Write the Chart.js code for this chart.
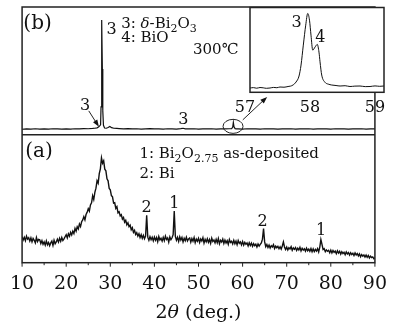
<!DOCTYPE html>
<html>
<head>
<meta charset="utf-8">
<script src="https://cdn.jsdelivr.net/npm/chart.js@4.4.1/dist/chart.umd.min.js"></script>
<style>
  html, body { margin: 0; padding: 0; background: #fff; }
  #wrap { position: relative; width: 397px; height: 327px; }
  #main { position: absolute; left: 0; top: 0; }
  #inset { position: absolute; left: 236px; top: 0; }
</style>
</head>
<body>
<div id="wrap">
  <canvas id="main" width="397" height="327"></canvas>
  <canvas id="inset" width="160" height="117"></canvas>
</div>
<script>
// (a) as-deposited film, step scan 10-90 deg, 0.25 deg per step
const aStart = 10;
const aStep = 0.25;
const aCounts = [
  130, 114, 127, 110, 133, 118, 125, 108,   // 10
  124, 104, 121, 112, 99, 126, 106, 117,    // 12
  115, 96, 110, 92, 104, 88, 109, 90,       // 14
  101, 85, 99, 108, 86, 112, 95, 104,       // 16
  118, 103, 122, 107, 126, 111, 119, 130,   // 18
  140, 124, 145, 133, 152, 139, 158, 146,   // 20
  172, 158, 180, 169, 194, 181, 205, 214,   // 22
  230, 214, 241, 252, 270, 258, 289, 300,   // 24
  335, 316, 352, 373, 410, 398, 446, 470,   // 26
  525, 498, 510, 468, 460, 420, 410, 372,   // 28
  365, 336, 330, 298, 300, 272, 281, 250,   // 30
  255, 234, 240, 218, 226, 203, 212, 190,   // 32
  200, 180, 188, 165, 175, 152, 162, 141,   // 34
  150, 133, 145, 126, 140, 122, 137, 120,   // 36
  133, 237, 128, 112, 130, 115, 127, 109,   // 38
  128, 112, 126, 105, 131, 114, 122, 108,   // 40
  127, 110, 133, 116, 124, 103, 129, 115,   // 42
  125, 140, 259, 132, 112, 127, 107, 130,   // 44
  113, 126, 104, 122, 110, 128, 109, 119,   // 46
  124, 103, 121, 108, 126, 100, 118, 107,   // 48
  122, 101, 119, 109, 125, 98, 117, 104,    // 50
  120, 102, 116, 97, 123, 106, 114, 99,     // 52
  117, 100, 121, 95, 112, 104, 118, 96,     // 54
  113, 99, 110, 92, 116, 101, 107, 94,      // 56
  112, 95, 108, 90, 111, 97, 104, 89,       // 58
  106, 88, 102, 92, 99, 84, 100, 86,        // 60
  98, 82, 95, 85, 93, 79, 94, 83,           // 62
  92, 99, 118, 171, 104, 80, 91, 76,        // 64
  88, 74, 85, 79, 90, 71, 83, 75,           // 66
  82, 70, 80, 68, 84, 104, 79, 66,          // 68
  78, 64, 75, 69, 80, 62, 74, 67,           // 70
  76, 61, 73, 64, 77, 59, 72, 63,           // 72
  70, 58, 73, 60, 68, 57, 71, 55,           // 74
  69, 56, 67, 58, 70, 54, 78, 116,          // 76
  92, 66, 70, 55, 64, 57, 62, 50,           // 78
  63, 49, 61, 52, 58, 45, 60, 48,           // 80
  57, 43, 55, 46, 52, 40, 54, 44,           // 82
  51, 38, 50, 41, 47, 36, 49, 39,           // 84
  46, 34, 44, 30, 41, 33, 39, 28,           // 86
  38, 27, 36, 24, 33, 26, 29, 20,           // 88
  25                                        // 90
];

// (b) annealed at 300 C
const bAngles = [10, 11, 12, 13, 14, 15, 16, 17, 18, 19, 20, 21, 22, 23, 24, 25, 26, 26.5, 27, 27.4,
  27.8, 27.9, 28.0, 28.1, 28.2, 28.3, 28.45, 28.7, 29.1, 29.5, 29.9, 30.3, 30.8, 31.5, 32, 33, 34, 35,
  36, 37, 38, 39, 40, 41, 42, 43, 44, 45, 46, 46.5, 47, 48, 49, 50, 51, 52, 53, 54, 55, 56, 57, 57.5,
  57.75, 57.9, 58.05, 58.3, 58.6, 59, 60, 61, 62, 63, 64, 65, 66, 67, 68, 69, 70, 71, 72, 73, 74, 75,
  76, 77, 78, 79, 80, 81, 82, 83, 84, 85, 86, 87, 88, 89, 90];
const bCounts = [280, 300, 285, 305, 290, 300, 285, 305, 295, 285, 300, 290, 305, 295, 310, 305, 320, 330, 350, 400,
  500, 1400, 3800, 5750, 3300, 1200, 480, 340, 330, 370, 420, 360, 330, 320, 315, 300, 310, 295,
  305, 290, 300, 310, 295, 300, 290, 305, 300, 290, 310, 330, 300, 295, 305, 290, 300, 295, 305, 290, 300, 295, 305, 310,
  380, 620, 400, 310, 295, 300, 290, 305, 295, 300, 290, 305, 295, 300, 290, 300, 295, 305, 290, 300, 295, 305,
  290, 300, 295, 300, 290, 305, 295, 300, 290, 300, 295, 305, 290, 300, 295];

// inset: 57-59 deg of (b)
const insetAngles = [57.077, 57.13, 57.18, 57.231, 57.28, 57.33, 57.385, 57.44, 57.49, 57.538, 57.6, 57.662,
  57.70, 57.738, 57.785, 57.831, 57.862, 57.897, 57.934, 57.965, 57.992, 58.015, 58.042, 58.077, 58.112,
  58.138, 58.154, 58.18, 58.231, 58.28, 58.334, 58.4, 58.462, 58.54, 58.615, 58.69, 58.769, 58.85, 58.923,
  59.0, 59.07, 59.138];
const insetCounts = [43, 47, 41, 48, 45, 40, 43, 49, 46, 53, 51, 58,
  62, 73, 103, 163, 273, 473, 673, 790, 723, 573, 423, 453, 480,
  403, 306, 173, 100, 82, 73, 68, 63, 66, 58, 62, 63, 57, 58,
  64, 60, 63];
const insetTicks = [57, 58, 59];

const xLabels = [10, 20, 30, 40, 50, 60, 70, 80, 90];

const FONT = '"DejaVu Serif", serif';

// text placed in data coordinates of each panel
const notes = [
  { axis: 'yB', x: 10.29, y: 5300, size: 20, align: 'left', parts: [['(b)']] },
  { axis: 'yB', x: 32.47, y: 5365, size: 15, align: 'left', parts: [['3: '], ['δ', 'i'], ['-Bi'], ['2', 'sub'], ['O'], ['3', 'sub']] },
  { axis: 'yB', x: 32.47, y: 4665, size: 15, align: 'left', parts: [['4: BiO']] },
  { axis: 'yB', x: 48.76, y: 4050, size: 15, align: 'left', parts: [['300℃']] },
  { axis: 'yB', x: 30.3, y: 5035, size: 16, align: 'center', parts: [['3']] },
  { axis: 'yB', x: 24.28, y: 1250, size: 16, align: 'center', parts: [['3']] },
  { axis: 'yB', x: 46.55, y: 550, size: 16, align: 'center', parts: [['3']] },
  { axis: 'yA', x: 10.73, y: 527, size: 20, align: 'left', parts: [['(a)']] },
  { axis: 'yA', x: 36.6, y: 525, size: 15, align: 'left', parts: [['1: Bi'], ['2', 'sub'], ['O'], ['2.75', 'sub'], [' as-deposited']] },
  { axis: 'yA', x: 36.6, y: 422, size: 15, align: 'left', parts: [['2: Bi']] },
  { axis: 'yA', x: 38.21, y: 252, size: 16, align: 'center', parts: [['2']] },
  { axis: 'yA', x: 44.5, y: 272, size: 16, align: 'center', parts: [['1']] },
  { axis: 'yA', x: 64.53, y: 182, size: 16, align: 'center', parts: [['2']] },
  { axis: 'yA', x: 77.8, y: 137, size: 16, align: 'center', parts: [['1']] }
];
const arrows = [
  { axis: 'yB', from: [25.12, 1200], to: [27.42, 400] },
  { axis: 'yB', from: [60.04, 750], to: [65.57, 1900] }
];
const circleAt = { axis: 'yB', x: 57.83, y: 425 };

function drawRich(ctx, parts, x, y, size, align) {
  const fontOf = p => (p[1] === 'i' ? 'italic ' : '') + (p[1] === 'sub' ? Math.round(size * 0.72) : size) + 'px ' + FONT;
  let width = 0;
  for (const p of parts) { ctx.font = fontOf(p); width += ctx.measureText(p[0]).width; }
  let cx = align === 'center' ? x - width / 2 : x;
  ctx.textAlign = 'left';
  ctx.textBaseline = 'alphabetic';
  for (const p of parts) {
    ctx.font = fontOf(p);
    ctx.fillText(p[0], cx, p[1] === 'sub' ? y + size * 0.28 : y);
    cx += ctx.measureText(p[0]).width;
  }
}

function arrowLine(ctx, x1, y1, x2, y2) {
  const ang = Math.atan2(y2 - y1, x2 - x1);
  ctx.beginPath();
  ctx.moveTo(x1, y1);
  ctx.lineTo(x2 - 4 * Math.cos(ang), y2 - 4 * Math.sin(ang));
  ctx.stroke();
  ctx.beginPath();
  ctx.moveTo(x2, y2);
  ctx.lineTo(x2 - 7 * Math.cos(ang) + 2.5 * Math.sin(ang), y2 - 7 * Math.sin(ang) - 2.5 * Math.cos(ang));
  ctx.lineTo(x2 - 7 * Math.cos(ang) - 2.5 * Math.sin(ang), y2 - 7 * Math.sin(ang) + 2.5 * Math.cos(ang));
  ctx.closePath();
  ctx.fill();
}

const framePlugin = {
  id: 'frame',
  afterDraw(chart) {
    const ctx = chart.ctx;
    const a = chart.chartArea;
    const x = chart.scales.x;
    ctx.save();
    ctx.strokeStyle = '#222';
    ctx.fillStyle = '#111';
    ctx.lineWidth = 1.5;
    ctx.strokeRect(a.left, a.top, a.right - a.left, a.bottom - a.top);
    // divider between the two panels
    const mid = chart.scales.yB.bottom;
    ctx.beginPath();
    ctx.moveTo(a.left, mid);
    ctx.lineTo(a.right, mid);
    ctx.stroke();
    // tick marks: long at labelled values, short in between
    ctx.lineWidth = 1;
    for (const t of x.ticks) {
      const px = x.getPixelForValue(t.value);
      const len = xLabels.includes(t.value) ? 4 : 2.5;
      ctx.beginPath();
      ctx.moveTo(px, a.bottom);
      ctx.lineTo(px, a.bottom + len);
      ctx.stroke();
    }
    // notes
    for (const n of notes) {
      drawRich(ctx, n.parts, x.getPixelForValue(n.x), chart.scales[n.axis].getPixelForValue(n.y), n.size, n.align);
    }
    ctx.lineWidth = 1;
    for (const ar of arrows) {
      const s = chart.scales[ar.axis];
      arrowLine(ctx, x.getPixelForValue(ar.from[0]), s.getPixelForValue(ar.from[1]),
        x.getPixelForValue(ar.to[0]), s.getPixelForValue(ar.to[1]));
    }
    ctx.beginPath();
    ctx.ellipse(x.getPixelForValue(circleAt.x), chart.scales[circleAt.axis].getPixelForValue(circleAt.y), 10, 7, 0, 0, Math.PI * 2);
    ctx.stroke();
    // axis title
    drawRich(ctx, [['2'], ['θ', 'i'], [' (deg.)']], (a.left + a.right) / 2, 318, 19, 'center');
    ctx.restore();
  }
};

const hiddenY = (min, max) => ({
  type: 'linear', stack: 'xrd', stackWeight: 1, min: min, max: max,
  ticks: { display: false }, grid: { display: false, drawTicks: false }, border: { display: false }
});

new Chart(document.getElementById('main'), {
  type: 'line',
  data: {
    datasets: [
      { data: bAngles.map((v, i) => ({ x: v, y: bCounts[i] })), yAxisID: 'yB', borderColor: '#111', borderWidth: 1.2, pointRadius: 0 },
      { data: aCounts.map((c, i) => ({ x: aStart + i * aStep, y: c })), yAxisID: 'yA', borderColor: '#111', borderWidth: 1.4, pointRadius: 0 }
    ]
  },
  options: {
    responsive: false,
    animation: false,
    layout: { padding: { left: 21.5, right: 13.5, top: 7, bottom: 21.5 } },
    plugins: { legend: { display: false }, tooltip: { enabled: false } },
    scales: {
      x: {
        type: 'linear', min: 10, max: 90,
        ticks: {
          stepSize: 5, autoSkip: false, maxRotation: 0, padding: 10, color: '#111',
          font: { family: FONT, size: 19 },
          callback: v => xLabels.includes(v) ? String(v) : ''
        },
        grid: { display: false, drawTicks: false },
        border: { display: false }
      },
      // stacked panels: the first one listed ends up at the bottom
      yA: hiddenY(0, 640),
      yB: hiddenY(0, 6400)
    }
  },
  plugins: [framePlugin]
});

const insetPlugin = {
  id: 'insetFrame',
  beforeDatasetsDraw(chart) {
    const a = chart.chartArea;
    chart.ctx.save();
    chart.ctx.fillStyle = '#fff';
    chart.ctx.fillRect(a.left, a.top, a.right - a.left, a.bottom - a.top);
    chart.ctx.restore();
  },
  afterDraw(chart) {
    const ctx = chart.ctx;
    const a = chart.chartArea;
    const x = chart.scales.x;
    const y = chart.scales.y;
    ctx.save();
    ctx.strokeStyle = '#222';
    ctx.fillStyle = '#111';
    ctx.lineWidth = 1.5;
    ctx.strokeRect(a.left, a.top, a.right - a.left, a.bottom - a.top);
    for (const t of insetTicks) {
      drawRich(ctx, [[String(t)]], x.getPixelForValue(t), 111.5, 16, 'center');
    }
    drawRich(ctx, [['3']], x.getPixelForValue(57.795), y.getPixelForValue(656), 16, 'center');
    drawRich(ctx, [['4']], x.getPixelForValue(58.16), y.getPixelForValue(506), 16, 'center');
    ctx.restore();
  }
};

new Chart(document.getElementById('inset'), {
  type: 'line',
  data: {
    datasets: [{
      data: insetAngles.map((v, i) => ({ x: v, y: insetCounts[i] })),
      borderColor: '#111', borderWidth: 1, pointRadius: 0, cubicInterpolationMode: 'monotone'
    }]
  },
  options: {
    responsive: false,
    animation: false,
    layout: { padding: { left: 14, right: 12, top: 7.5, bottom: 24.7 } },
    plugins: { legend: { display: false }, tooltip: { enabled: false } },
    scales: {
      x: { type: 'linear', min: 57.077, max: 59.138, display: false },
      y: { min: 0, max: 850, display: false }
    }
  },
  plugins: [insetPlugin]
});
</script>
</body>
</html>
